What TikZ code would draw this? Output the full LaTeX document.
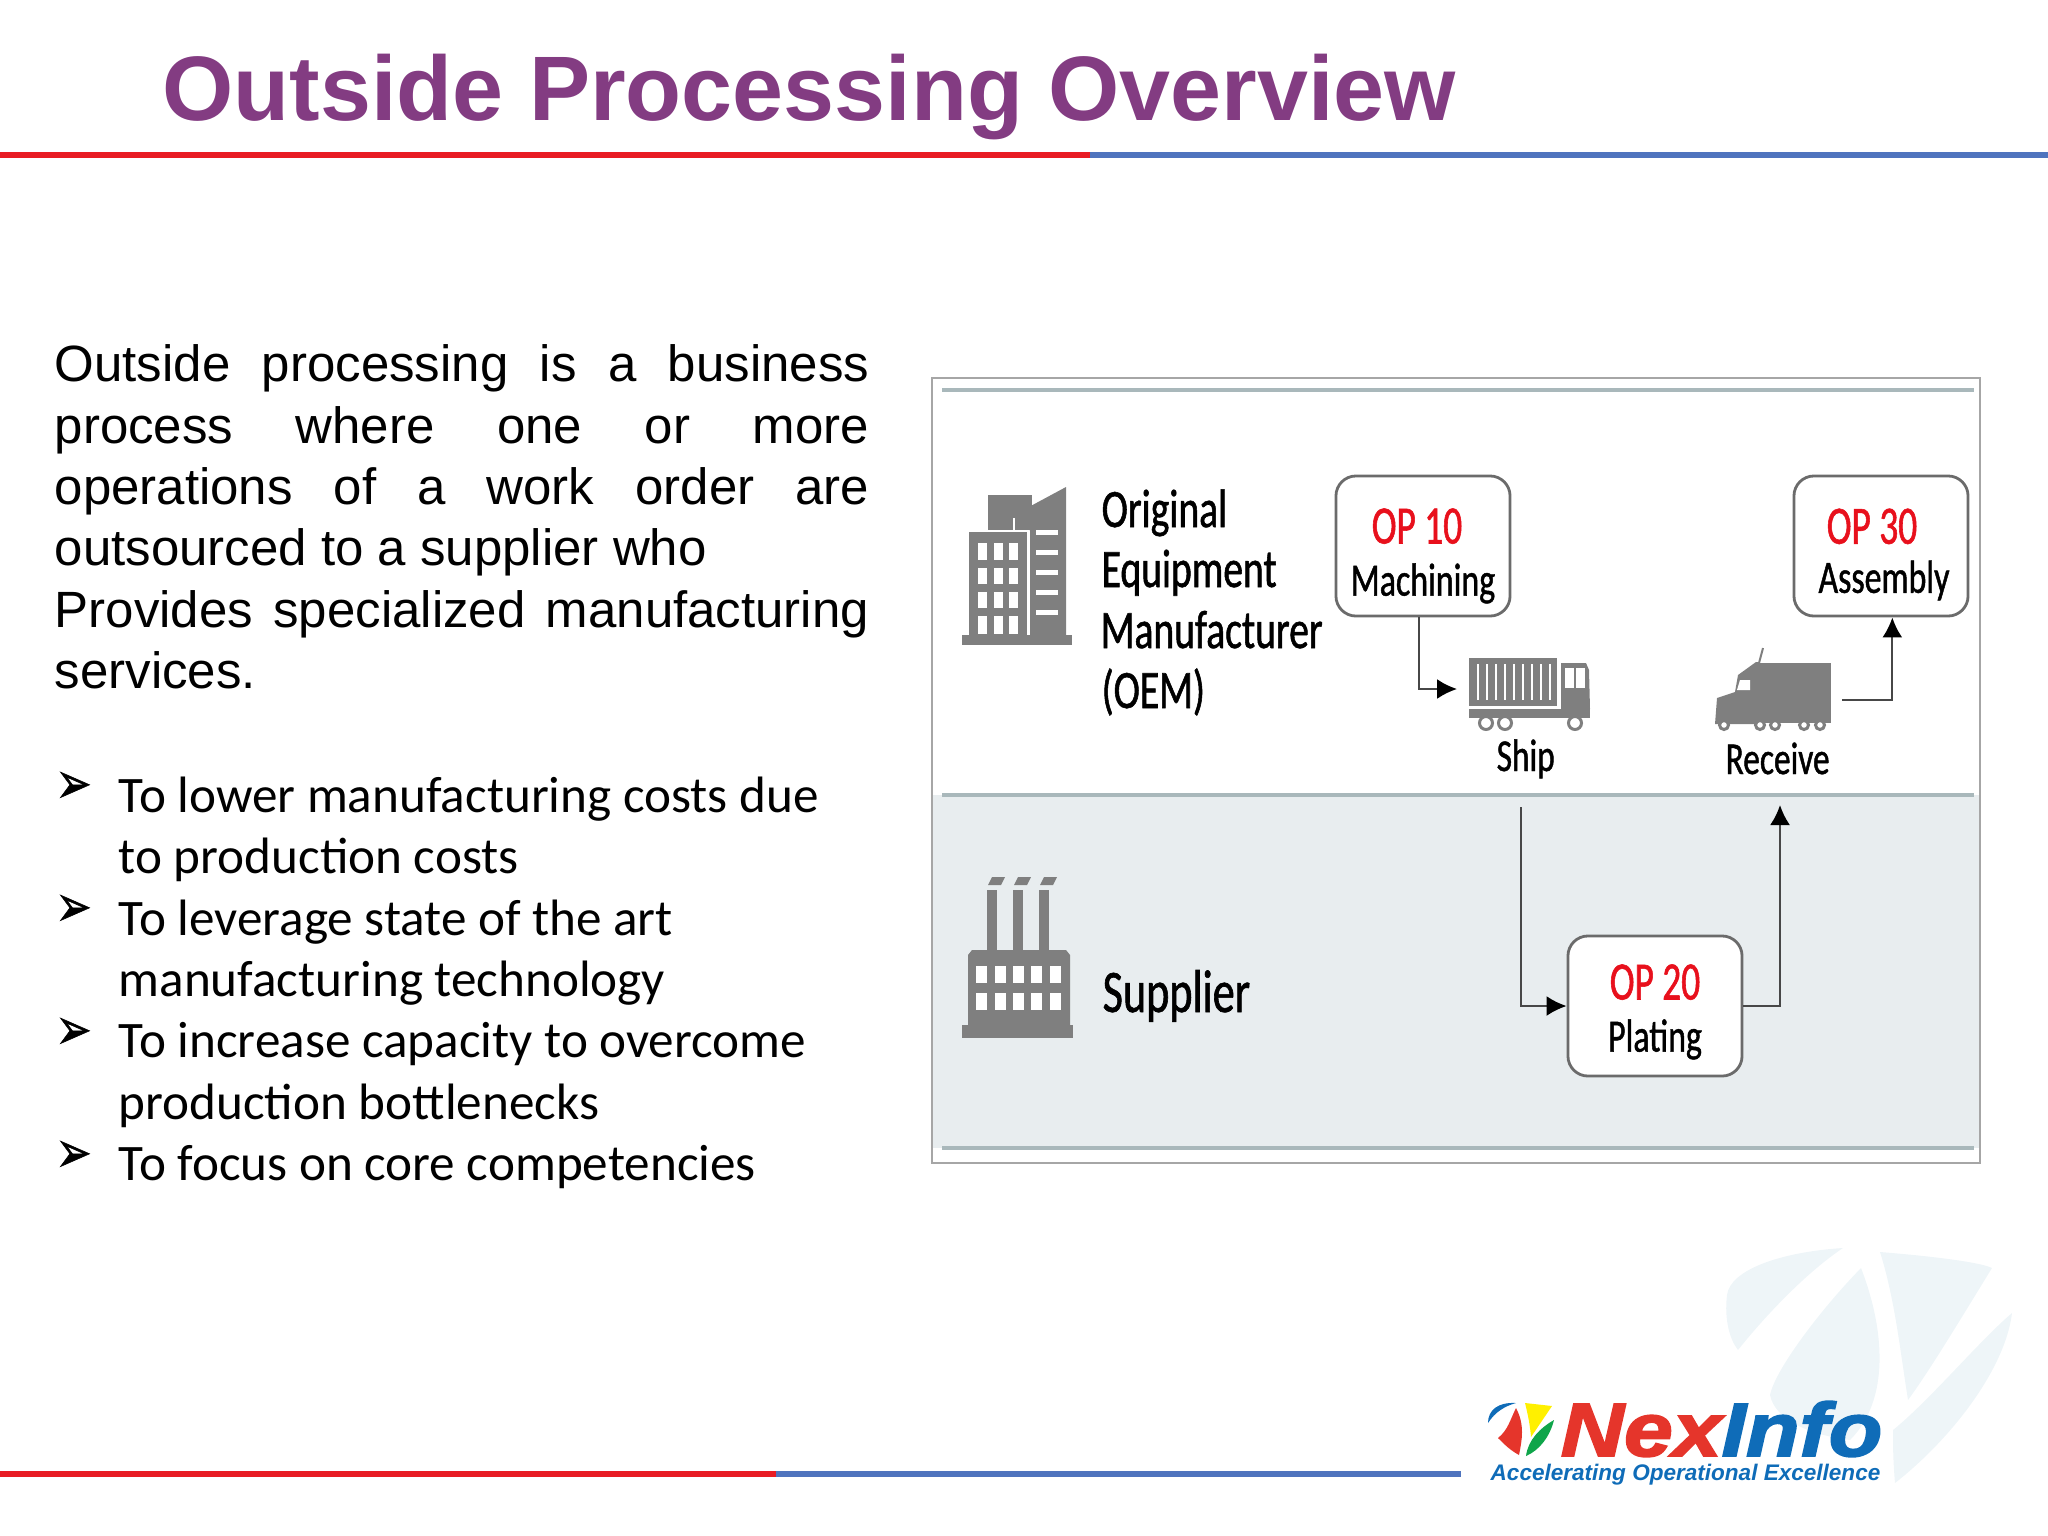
\documentclass[tikz,border=0pt]{standalone}
\usepackage{fontspec}
\usepackage{xcolor}
\usetikzlibrary{arrows.meta}
\setmainfont{Liberation Sans}
\newfontfamily\bulletfont{Carlito}
\newfontfamily\figfont[FakeStretch=0.73,FakeBold=1]{Carlito}
\newfontfamily\opfont[FakeStretch=0.69,FakeBold=1]{Carlito}
\newfontfamily\markfont[FakeStretch=0.74,FakeBold=1]{DejaVu Sans}
\newfontfamily\logofont[FakeStretch=1.16,FakeBold=2.5]{Liberation Sans Bold Italic}
\newfontfamily\tagfont{Liberation Sans Bold Italic}
\definecolor{titlepurple}{HTML}{833C82}
\definecolor{rulered}{HTML}{E81C24}
\definecolor{ruleblue}{HTML}{4F74BE}
\definecolor{opred}{HTML}{E8101C}
\definecolor{icongray}{HTML}{7F7F7F}
\definecolor{bandgray}{HTML}{E8EDEF}
\definecolor{bandrule}{HTML}{A9B8BB}
\definecolor{logored}{HTML}{E5352B}
\definecolor{logoblue}{HTML}{0F6CB8}
\definecolor{logoyellow}{HTML}{FFF000}
\definecolor{logogreen}{HTML}{0FA54A}
\definecolor{washblue}{HTML}{EEF5F8}
\newcommand{\opname}[2]{\textcolor{opred}{\opfont\fontsize{15.4}{14.8}\selectfont\rule{0pt}{#1}#2}}
\tikzset{
  opbox/.style={draw=black!58,line width=0.028cm,rounded corners=0.2cm,fill=white,
    minimum width=1.74cm,minimum height=1.4cm,align=center,inner sep=0pt,
    font=\figfont\fontsize{13.2}{14.8}\selectfont},
  figlabel/.style={anchor=base west,inner sep=0pt,font=\figfont\fontsize{15.4}{17}\selectfont},
  steplabel/.style={anchor=base west,inner sep=0pt,font=\figfont\fontsize{13}{15}\selectfont},
  bullettext/.style={anchor=north west,inner sep=0pt,align=left,
    font=\bulletfont\fontsize{14.55}{17.47}\selectfont},
  bulletmark/.style={anchor=base west,inner sep=0pt,font=\markfont\fontsize{16.5}{18}\selectfont},
  flow/.style={draw=black!72,line width=0.022cm,-{Latex[length=0.2cm,width=0.2cm,black]}},
  band/.style={bandrule,line width=0.045cm}
}
\begin{document}
\begin{tikzpicture}[x=0.01cm,y=-0.01cm]
        \useasboundingbox (0,0) rectangle (2048,1536);

        % slide furniture
        \fill[washblue] (1843,1248) .. controls (1780,1252) and (1730,1270) .. (1727,1295)
            .. controls (1724,1320) and (1730,1340) .. (1738,1350) .. controls (1770,1310) and (1810,1270) .. cycle;
        \fill[washblue] (1861,1268) .. controls (1820,1310) and (1775,1370) .. (1770,1395)
            .. controls (1775,1420) and (1810,1435) .. (1850,1440) .. controls (1890,1400) and (1885,1330) .. cycle;
        \fill[washblue] (1880,1252) .. controls (1930,1256) and (1980,1262) .. (1992,1268)
            .. controls (1960,1320) and (1930,1370) .. (1908,1400) .. controls (1900,1350) and (1895,1300) .. cycle;
        \fill[washblue] (2012,1313) .. controls (2005,1370) and (1950,1440) .. (1895,1483)
            .. controls (1893,1460) and (1893,1445) .. (1893,1430) .. controls (1930,1400) and (1980,1340) .. cycle;

        \node[anchor=base west,inner sep=0pt,text=titlepurple,font=\bfseries\fontsize{26.05}{30}\selectfont] (title) at (162,120)
            {Outside Processing Overview};
        \draw[rulered,line width=0.055cm] (0,155) -- (1090,155);
        \draw[ruleblue,line width=0.055cm] (1090,155) -- (2048,155);
        \draw[rulered,line width=0.055cm] (0,1474) -- (776,1474);
        \draw[ruleblue,line width=0.055cm] (776,1474) -- (1461,1474);

        % left column
        \node[anchor=north west,inner sep=0pt,text width=8.14cm,align=justify,
            font=\fontsize{14.5}{17.47}\selectfont] (intro) at (54,344) {
            Outside processing is a business\linebreak
            process where one or more\linebreak
            operations of a work order are\linebreak
            outsourced to a supplier who\newline
            Provides specialized manufacturing\linebreak
            services.};

        \node[bullettext] (lower) at (118,776) {To lower manufacturing costs due\\to production costs};
        \node[bullettext] (leverage) at (118,899) {To leverage state of the art\\manufacturing technology};
        \node[bullettext] (capacity) at (118,1022) {To increase capacity to overcome\\production bottlenecks};
        \node[bullettext] (focus) at (118,1145) {To focus on core competencies};
        \node[bulletmark] (mark1) at (55,803) {➢};
        \node[bulletmark] (mark2) at (55,926) {➢};
        \node[bulletmark] (mark3) at (55,1049) {➢};
        \node[bulletmark] (mark4) at (55,1172) {➢};

        % process figure
        \fill[bandgray] (933,795) rectangle (1979,1148);
        \draw[black!35,line width=0.015cm] (932,378) rectangle (1980,1163);
        \draw[band] (942,390) -- (1974,390);
        \draw[band] (942,795) -- (1974,795);
        \draw[band] (942,1148) -- (1974,1148);

        % building
        \fill[icongray] (962,635) rectangle (1072,645);
        \fill[icongray] (969,532) rectangle (1027,635);
        \fill[icongray] (988,495) rectangle (1032,530);
        \fill[icongray] (1014,515) -- (1066,487) -- (1066,635) -- (1030,635) -- (1030,530) -- (1014,530) -- cycle;
        \draw[white,line width=0.012cm] (969,531) -- (1028,531) -- (1028,632);
        \draw[white,line width=0.012cm] (1014,530) -- (1014,518);
        \foreach \wx in {978,994,1009}
            \foreach \wy/\wh in {543/17,568/16,592/16,616/18}
                \fill[white] (\wx,\wy) rectangle ++(8.5,\wh);
        \foreach \wy in {530,550,570,590,610}
            \fill[white] (1036,\wy) rectangle ++(22,5);

        % factory
        \fill[icongray] (962,1025) rectangle (1073,1038);
        \fill[icongray] (968,955) -- (972,950) -- (1066,950) -- (1070,955) -- (1070,1025) -- (968,1025) -- cycle;
        \foreach \cx in {987,1013,1039} {
            \fill[icongray] (\cx,890) rectangle ++(10,60);
            \fill[icongray] (\cx+1,885) -- (\cx+5,877) -- (\cx+18,877) -- (\cx+14,885) -- cycle;
        }
        \foreach \wx in {976,995,1013,1031,1050}
            \foreach \wy in {966,993}
                \fill[white] (\wx,\wy) rectangle ++(10.5,17);

        % outgoing truck
        \fill[icongray] (1469,658) rectangle (1557,706);
        \fill[icongray] (1469,709) rectangle (1590,718);
        \fill[icongray] (1561,663) -- (1586,663) -- (1589,670) -- (1590,709) -- (1561,709) -- cycle;
        \fill[white] (1565,668) rectangle (1574,688);
        \fill[white] (1576,668) rectangle (1585,688);
        \foreach \sx in {1477,1486,1495,1504,1513,1522,1531,1540,1549}
            \fill[white] (\sx,664) rectangle ++(2.4,36);
        \foreach \tx in {1486,1505,1575} {
            \draw[icongray,fill=white,line width=0.03cm] (\tx,723) circle (6.5);
        }

        % incoming truck
        \fill[icongray] (1758,663) rectangle (1831,723);
        \fill[icongray] (1715,724) -- (1717,698) -- (1735,692) -- (1738,675) -- (1756,662) -- (1759,662) -- (1759,724) -- cycle;
        \draw[icongray,line width=0.02cm] (1759,663) -- (1763,648);
        \fill[white] (1737,690) -- (1740,680) -- (1750,680) -- (1750,690) -- cycle;
        \foreach \tx in {1724,1760,1775,1804,1820} {
            \draw[icongray,fill=white,line width=0.03cm] (\tx,725) circle (4.5);
        }

        % lane and step labels
        \node[figlabel] (oemA) at (1101,527) {Original};
        \node[figlabel] (oemB) at (1101,587) {Equipment};
        \node[figlabel] (oemC) at (1100,648) {Manufacturer};
        \node[figlabel] (oemD) at (1101,708) {(OEM)};
        \node[figlabel,font=\figfont\fontsize{17.2}{20}\selectfont] (supplier) at (1102,1012) {Supplier};
        \node[steplabel] (ship) at (1496,771) {Ship};
        \node[steplabel] (receive) at (1725,774) {Receive};

        \node[opbox] (op10) at (1423,546) {\opname{0.55cm}{OP 10}\hspace*{0.12cm}\\Machining};
        \node[opbox] (op30) at (1881,546) {\opname{0.52cm}{OP 30}\hspace*{0.18cm}\\[-0.03cm]\hspace*{0.06cm}Assembly};
        \node[opbox] (op20) at (1655,1006) {\opname{0.47cm}{OP 20}\\Plating};

        \coordinate (shipin) at (1457,689);
        \coordinate (shipout) at (1521,807);
        \coordinate (recvin) at (1780,805);
        \coordinate (recvout) at (1842,700);

        \draw[flow] (op10.267) |- (shipin);
        \draw[flow] (shipout) |- (op20.west);
        \draw[flow] (op20.east) -| (recvin);
        \draw[flow] (recvout) -| (op30.279);

        % logo
        \fill[logoblue] (1488,1423) .. controls (1488,1410) and (1498,1402) .. (1516,1403)
            .. controls (1505,1406) and (1495,1412) .. cycle;
        \fill[logored] (1516,1408) .. controls (1510,1420) and (1508,1430) .. (1498,1438)
            .. controls (1505,1445) and (1510,1450) .. (1519,1455) .. controls (1522,1440) and (1525,1425) .. cycle;
        \fill[logoyellow] (1525,1403) -- (1552,1406) -- (1531,1437) .. controls (1530,1425) and (1528,1415) .. cycle;
        \fill[logogreen] (1554,1420) .. controls (1540,1428) and (1528,1440) .. (1526,1456)
            .. controls (1540,1450) and (1550,1436) .. cycle;
        \node[anchor=base west,inner sep=0pt,font=\logofont\fontsize{21.5}{24}\selectfont] (nexinfo) at (1560,1456)
            {\textcolor{logored}{Nex}\textcolor{logoblue}{Info}};
        \node[anchor=base west,inner sep=0pt,text=logoblue,font=\tagfont\fontsize{6.41}{8}\selectfont] (tagline) at (1490,1480)
            {Accelerating Operational Excellence};
    \end{tikzpicture}
\end{document}
